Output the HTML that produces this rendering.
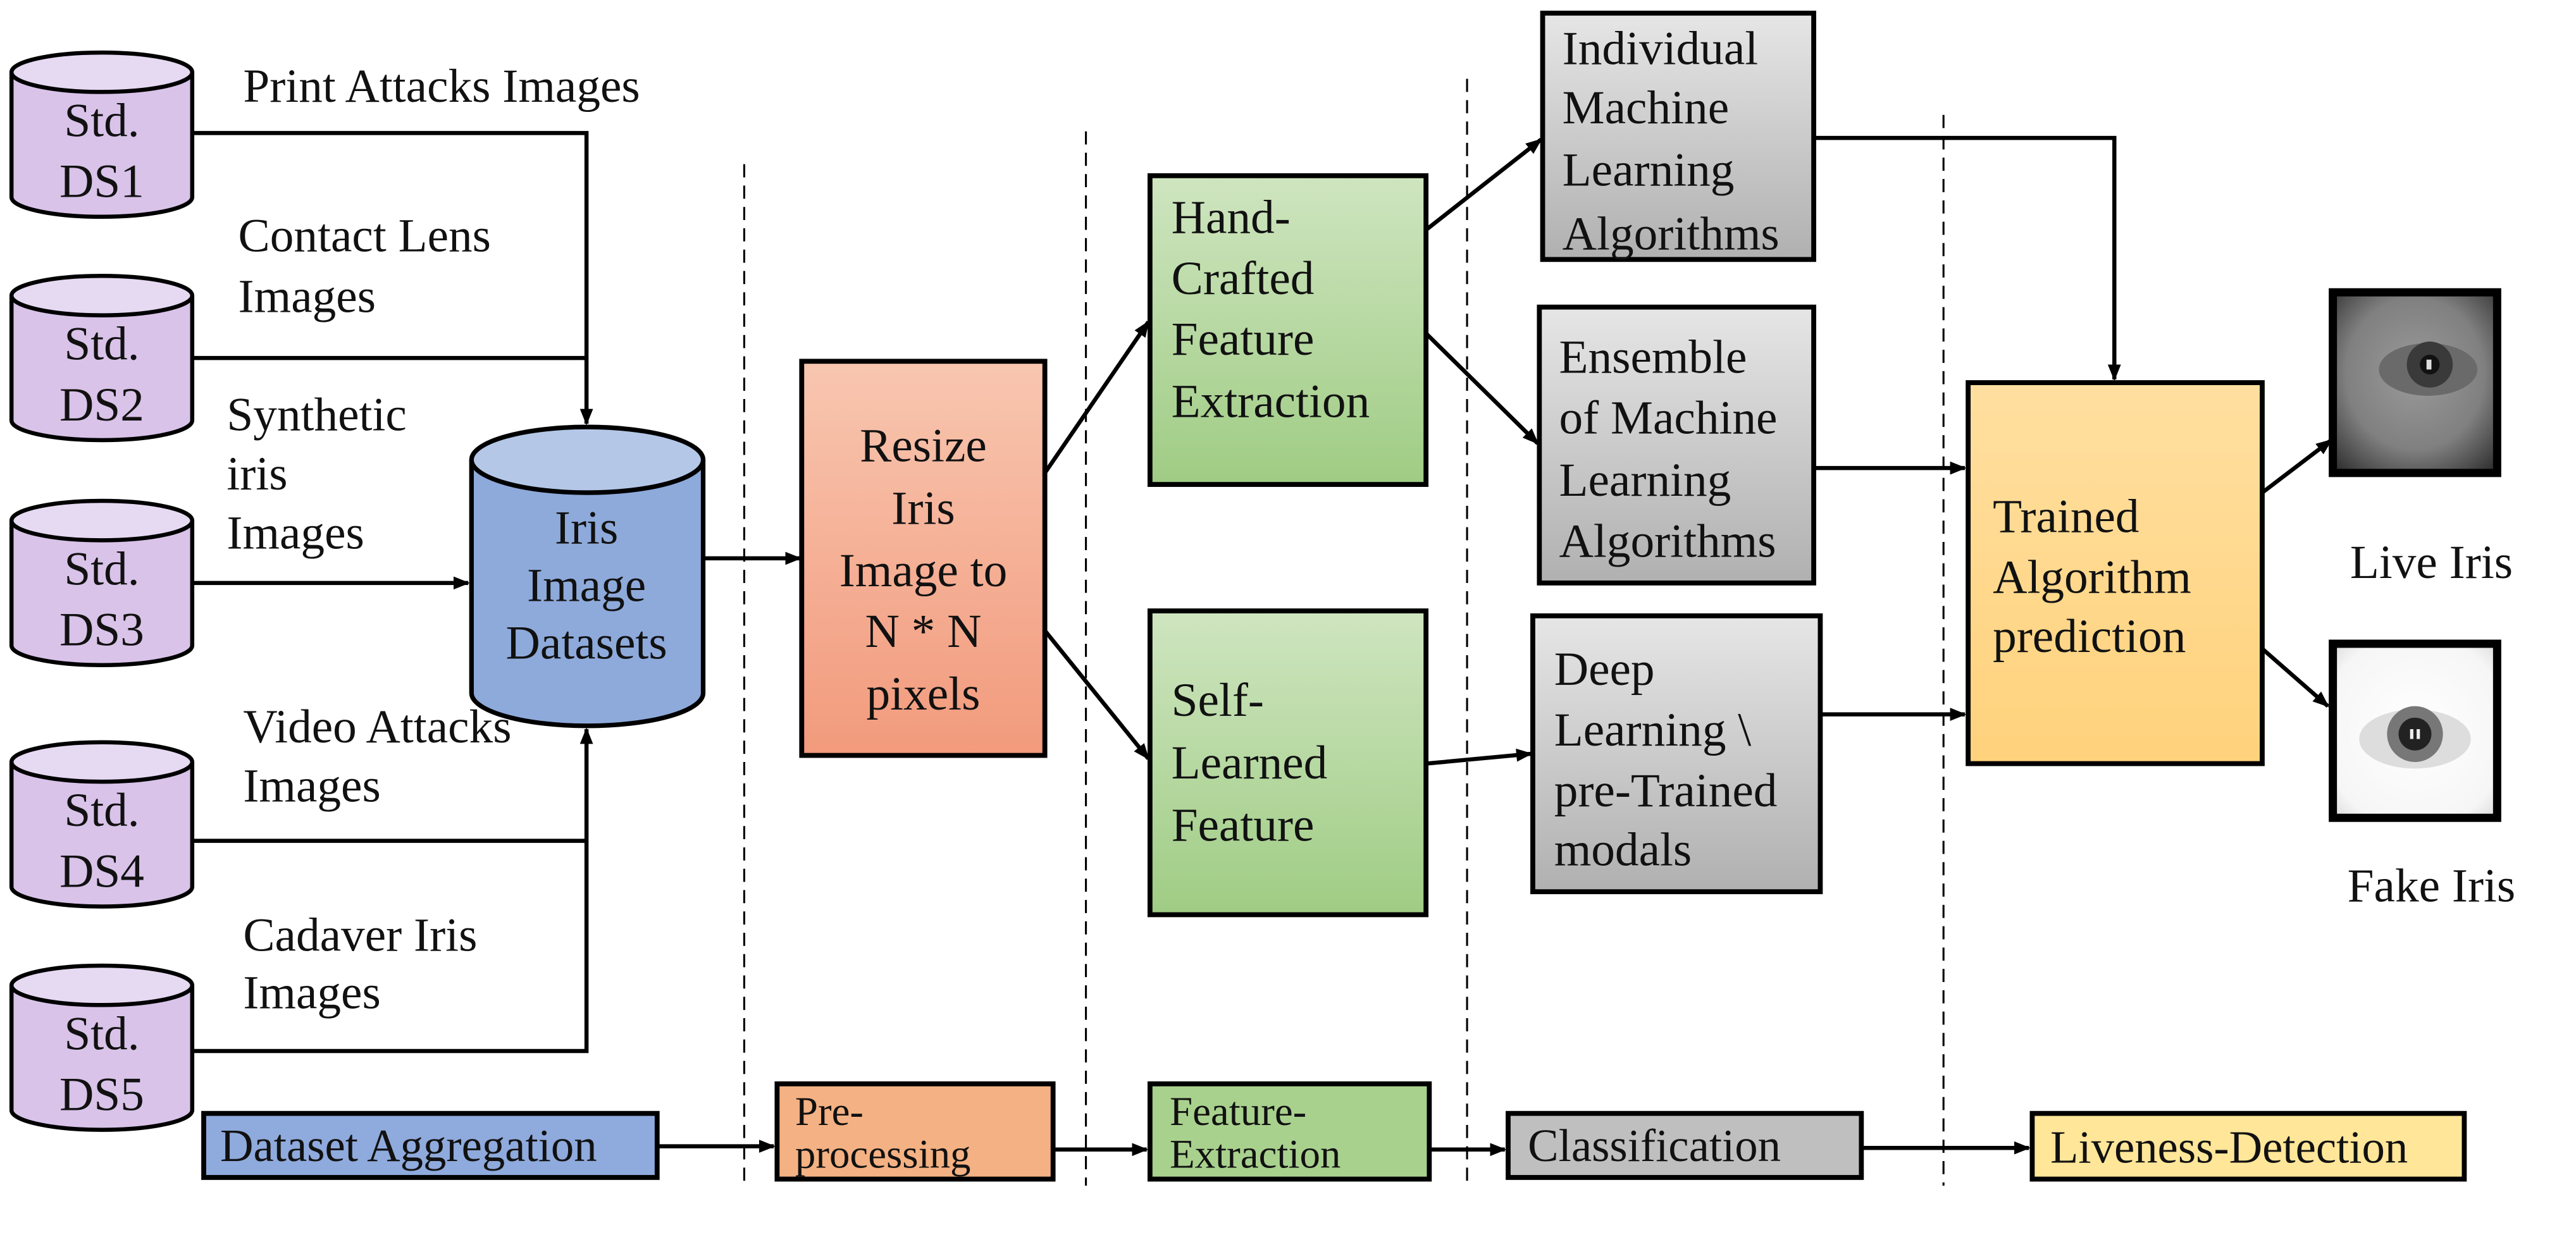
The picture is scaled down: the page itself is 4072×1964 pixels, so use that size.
<!DOCTYPE html>
<html><head><meta charset="utf-8"><style>
html,body{margin:0;padding:0;background:#fff;}
svg{display:block;}
text{font-family:"Liberation Serif",serif;font-size:29px;fill:#111;}
.b{font-size:28px;}
.s{font-size:25px;}
</style></head><body>
<svg width="4072" height="1964" viewBox="0 0 1568 756.3" preserveAspectRatio="none" xmlns="http://www.w3.org/2000/svg">
<defs>
<marker id="ah" markerWidth="10" markerHeight="10" refX="9" refY="5" orient="auto" markerUnits="userSpaceOnUse"><path d="M0,1 L10,5 L0,9 z" fill="#000"/></marker>
<linearGradient id="gS" x1="0" y1="0" x2="0" y2="1"><stop offset="0" stop-color="#f8c6b0"/><stop offset="1" stop-color="#f29a7c"/></linearGradient>
<linearGradient id="gG" x1="0" y1="0" x2="0" y2="1"><stop offset="0" stop-color="#cfe5c0"/><stop offset="1" stop-color="#9fcc84"/></linearGradient>
<linearGradient id="gY" x1="0" y1="0" x2="0" y2="1"><stop offset="0" stop-color="#ffdfa0"/><stop offset="1" stop-color="#ffd27c"/></linearGradient>
<linearGradient id="gR" x1="0" y1="0" x2="0" y2="1"><stop offset="0" stop-color="#e6e6e6"/><stop offset="1" stop-color="#b0b0b0"/></linearGradient>
<radialGradient id="eye1" cx="0.5" cy="0.45" r="0.7"><stop offset="0" stop-color="#9a9a9a"/><stop offset="0.6" stop-color="#808080"/><stop offset="1" stop-color="#333"/></radialGradient>
<radialGradient id="eye2" cx="0.5" cy="0.5" r="0.7"><stop offset="0" stop-color="#fff"/><stop offset="0.8" stop-color="#f6f6f6"/><stop offset="1" stop-color="#ddd"/></radialGradient>
</defs>

<g stroke="#000" stroke-width="1.2" stroke-dasharray="8,5">
<line x1="453" y1="100" x2="453" y2="722"/>
<line x1="661" y1="80" x2="661" y2="722"/>
<line x1="893" y1="48" x2="893" y2="722"/>
<line x1="1183" y1="70" x2="1183" y2="722"/>
</g>

<g stroke="#000" stroke-width="2.5" fill="#d9c3e9">
<path d="M7,44 V120 A55,12 0 0 0 117,120 V44"/><ellipse cx="62" cy="44" rx="55" ry="12" fill="#e6d9f2"/>
<path d="M7,180 V256 A55,12 0 0 0 117,256 V180"/><ellipse cx="62" cy="180" rx="55" ry="12" fill="#e6d9f2"/>
<path d="M7,317 V393 A55,12 0 0 0 117,393 V317"/><ellipse cx="62" cy="317" rx="55" ry="12" fill="#e6d9f2"/>
<path d="M7,464 V540 A55,12 0 0 0 117,540 V464"/><ellipse cx="62" cy="464" rx="55" ry="12" fill="#e6d9f2"/>
<path d="M7,600 V676 A55,12 0 0 0 117,676 V600"/><ellipse cx="62" cy="600" rx="55" ry="12" fill="#e6d9f2"/>
</g>
<g text-anchor="middle">
<text x="62" y="83">Std.</text><text x="62" y="120">DS1</text>
<text x="62" y="219">Std.</text><text x="62" y="256">DS2</text>
<text x="62" y="356">Std.</text><text x="62" y="393">DS3</text>
<text x="62" y="503">Std.</text><text x="62" y="540">DS4</text>
<text x="62" y="639">Std.</text><text x="62" y="676">DS5</text>
</g>
<text x="148" y="62">Print Attacks Images</text>
<text x="145" y="153">Contact Lens</text><text x="145" y="190">Images</text>
<text x="138" y="262">Synthetic</text><text x="138" y="298">iris</text><text x="138" y="334">Images</text>
<text x="148" y="452">Video Attacks</text><text x="148" y="488">Images</text>
<text x="148" y="579">Cadaver Iris</text><text x="148" y="614">Images</text>

<g stroke="#000" stroke-width="2.8">
<path d="M287,280 V422 A70.5,20 0 0 0 428,422 V280" fill="#8eaadb"/>
<ellipse cx="357.5" cy="280" rx="70.5" ry="20" fill="#b4c7e7"/>
</g>
<g text-anchor="middle"><text x="357" y="331">Iris</text><text x="357" y="366">Image</text><text x="357" y="401">Datasets</text></g>

<g stroke="#000" stroke-width="2.5" fill="none">
<polyline points="117,81 357,81 357,258" marker-end="url(#ah)"/>
<line x1="117" y1="218" x2="357" y2="218"/>
<line x1="117" y1="355" x2="285" y2="355" marker-end="url(#ah)"/>
<line x1="117" y1="512" x2="357" y2="512"/>
<polyline points="117,640 357,640 357,444" marker-end="url(#ah)"/>
<line x1="428" y1="340" x2="487" y2="340" marker-end="url(#ah)"/>
<line x1="636" y1="288" x2="699" y2="196" marker-end="url(#ah)"/>
<line x1="636" y1="384" x2="699" y2="462" marker-end="url(#ah)"/>
<line x1="868" y1="140" x2="938" y2="85" marker-end="url(#ah)"/>
<line x1="868" y1="203" x2="936" y2="270" marker-end="url(#ah)"/>
<line x1="868" y1="465" x2="932" y2="459" marker-end="url(#ah)"/>
<polyline points="1104,84 1287,84 1287,231" marker-end="url(#ah)"/>
<line x1="1104" y1="285" x2="1196" y2="285" marker-end="url(#ah)"/>
<line x1="1108" y1="435" x2="1196" y2="435" marker-end="url(#ah)"/>
<line x1="1377" y1="300" x2="1419" y2="268" marker-end="url(#ah)"/>
<line x1="1377" y1="395" x2="1417" y2="430" marker-end="url(#ah)"/>
</g>

<g stroke="#000" stroke-width="3">
<rect x="488" y="220" width="148" height="240" fill="url(#gS)"/>
<rect x="700" y="107" width="168" height="188" fill="url(#gG)"/>
<rect x="700" y="372" width="168" height="185" fill="url(#gG)"/>
<rect x="939" y="8" width="165" height="150" fill="url(#gR)"/>
<rect x="937" y="187" width="167" height="168" fill="url(#gR)"/>
<rect x="933" y="375" width="175" height="168" fill="url(#gR)"/>
<rect x="1198" y="233" width="179" height="232" fill="url(#gY)"/>
</g>
<g text-anchor="middle"><text x="562" y="281">Resize</text><text x="562" y="319">Iris</text><text x="562" y="357">Image to</text><text x="562" y="394">N * N</text><text x="562" y="432">pixels</text></g>
<text x="713" y="142">Hand-</text><text x="713" y="179">Crafted</text><text x="713" y="216">Feature</text><text x="713" y="254">Extraction</text>
<text x="713" y="436">Self-</text><text x="713" y="474">Learned</text><text x="713" y="512">Feature</text>
<text x="951" y="39">Individual</text><text x="951" y="75">Machine</text><text x="951" y="113">Learning</text><text x="951" y="152">Algorithms</text>
<text x="949" y="227">Ensemble</text><text x="949" y="264">of Machine</text><text x="949" y="302">Learning</text><text x="949" y="339">Algorithms</text>
<text x="946" y="417">Deep</text><text x="946" y="454">Learning \</text><text x="946" y="491">pre-Trained</text><text x="946" y="527">modals</text>
<text x="1213" y="324">Trained</text><text x="1213" y="361">Algorithm</text><text x="1213" y="397">prediction</text>

<g>
<rect x="1420" y="178" width="100" height="110" fill="url(#eye1)" stroke="#000" stroke-width="5"/>
<ellipse cx="1478" cy="225" rx="30" ry="16" fill="#6a6a6a"/>
<circle cx="1479" cy="222" r="14" fill="#3a3a3a"/><circle cx="1479" cy="222" r="6" fill="#111"/><rect x="1477" y="219" width="3" height="6" fill="#ddd"/>
<rect x="1420" y="392" width="100" height="106" fill="url(#eye2)" stroke="#000" stroke-width="5"/>
<ellipse cx="1470" cy="450" rx="34" ry="18" fill="#ddd"/>
<circle cx="1470" cy="447" r="17" fill="#777"/><circle cx="1470" cy="447" r="10" fill="#222"/><rect x="1467" y="444" width="2" height="6" fill="#eee"/><rect x="1471" y="444" width="2" height="6" fill="#eee"/>
</g>
<g text-anchor="middle"><text x="1480" y="352">Live Iris</text><text x="1480" y="549">Fake Iris</text></g>

<g stroke="#000" stroke-width="2.5" fill="none">
<line x1="400" y1="698" x2="471" y2="698" marker-end="url(#ah)"/>
<line x1="641" y1="700" x2="698" y2="700" marker-end="url(#ah)"/>
<line x1="870" y1="700" x2="916" y2="700" marker-end="url(#ah)"/>
<line x1="1133" y1="699" x2="1235" y2="699" marker-end="url(#ah)"/>
</g>
<g stroke="#000" stroke-width="3">
<rect x="124" y="678" width="276" height="39" fill="#8faadc"/>
<rect x="473" y="660" width="168" height="58" fill="#f4b183"/>
<rect x="700" y="660" width="170" height="58" fill="#a9d18e"/>
<rect x="918" y="678" width="215" height="39" fill="#bfbfbf"/>
<rect x="1237" y="678" width="263" height="40" fill="#ffe699"/>
</g>
<text class="b" x="134" y="707">Dataset Aggregation</text>
<text class="s" x="484" y="685">Pre-</text><text class="s" x="484" y="711">processing</text>
<text class="s" x="712" y="685">Feature-</text><text class="s" x="712" y="711">Extraction</text>
<text class="b" x="930" y="707">Classification</text>
<text class="b" x="1248" y="708">Liveness-Detection</text>
</svg>
</body></html>
